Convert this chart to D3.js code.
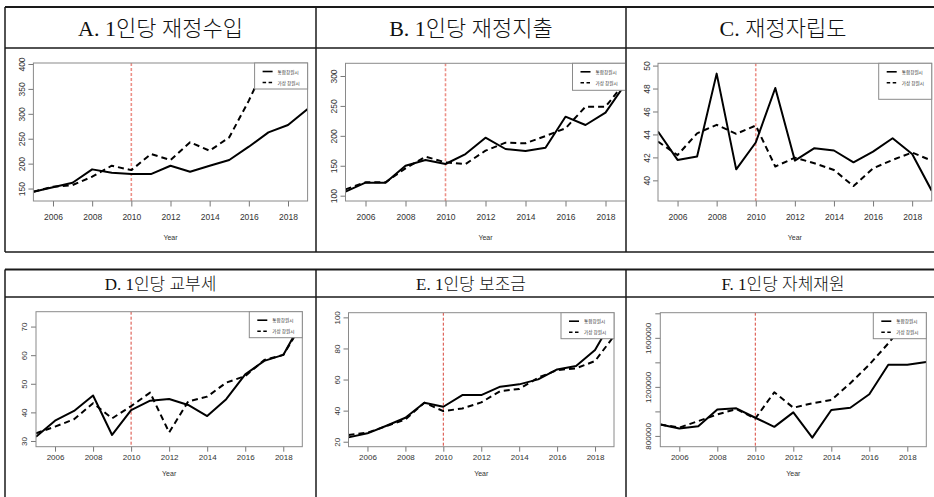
<!DOCTYPE html>
<html>
<head>
<meta charset="utf-8">
<script src="https://cdn.jsdelivr.net/npm/d3@7/dist/d3.min.js"></script>
<style>
    body { margin: 0; background: #fff; }
</style>
</head>
<body>
<div id="chart"></div>
<script>
let years = [2005, 2006, 2007, 2008, 2009, 2010, 2011, 2012, 2013, 2014, 2015, 2016, 2017, 2018, 2019];
let xTicks = [2006, 2008, 2010, 2012, 2014, 2016, 2018];
let seriesNames = ["통합창원시", "가상 창원시"];
let panelTitles = ["A. 1인당 재정수입", "B. 1인당 재정지출", "C. 재정자립도",
                   "D. 1인당 교부세", "E. 1인당 보조금", "F. 1인당 자체재원"];

// solid = 통합창원시, dashed = 가상 창원시
let revenueActual  = [143.6, 152.4, 161.6, 188.5, 181.8, 179.1, 179, 195.8, 183.8, 195.8, 207.2, 234, 262.8, 277.5, 309.6];
let revenueVirtual = [143.6, 153.6, 157, 173.7, 195.8, 187, 219.3, 207.2, 242.8, 225.9, 252.8, 326.5, 410, 440, 470];
let spendingActual  = [106.7, 121.7, 121.7, 150.1, 159.6, 152.9, 169.6, 196.9, 178, 174.7, 180.2, 232, 218.1, 238.7, 287];
let spendingVirtual = [110.6, 122.3, 122.3, 145.7, 165.2, 155.7, 152.9, 175.2, 188.6, 187.5, 199.7, 212.5, 248.7, 248.7, 290];
let autonomyActual  = [44.26, 41.78, 42.07, 49.3, 40.96, 43.3, 48.05, 41.72, 42.8, 42.6, 41.57, 42.5, 43.67, 42.3, 39.1];
let autonomyVirtual = [43.38, 42.2, 44.1, 44.84, 44.05, 44.78, 41.2, 41.98, 41.49, 40.9, 39.5, 41.05, 41.78, 42.42, 41.72];
let grantActual  = [31.5, 37.1, 40.5, 45.9, 32.1, 40.8, 44.1, 44.7, 42.6, 38.7, 44.6, 53.3, 58, 60.1, 72];
let grantVirtual = [32.7, 35, 37.6, 43.2, 37.9, 42.2, 46.9, 33, 43.8, 45.5, 50.4, 52.7, 58.3, 60.1, 71];
let subsidyActual  = [22.8, 25.4, 30.3, 35.4, 45.1, 42.5, 50, 50, 55.4, 56.9, 60.1, 66.5, 68.7, 79, 100];
let subsidyVirtual = [24.3, 25.8, 30.1, 34.4, 45.1, 39.7, 41.4, 45.3, 52.6, 53.9, 61.2, 66.1, 67.2, 71.9, 88];
let ownActual  = [893000, 860000, 879000, 1016000, 1025000, 948000, 874000, 992000, 786000, 1011000, 1030000, 1140000, 1381000, 1381000, 1403000];
let ownVirtual = [893000, 868000, 921000, 975000, 1019000, 942000, 1156000, 1030000, 1066000, 1093000, 1230000, 1381000, 1555000, 1740000, 1900000];

let revenueTicks  = [150, 200, 250, 300, 350, 400];
let spendingTicks = [100, 150, 200, 250, 300];
let autonomyTicks = [40, 42, 44, 46, 48, 50];
let grantTicks    = [30, 40, 50, 60, 70];
let subsidyTicks  = [20, 40, 60, 80, 100];
let ownTicks      = [800000, 1000000, 1200000, 1400000, 1600000, 1800000];
let ownTickLabels = [800000, 1200000, 1600000];

let panelSeries = [
    [revenueActual, revenueVirtual],
    [spendingActual, spendingVirtual],
    [autonomyActual, autonomyVirtual],
    [grantActual, grantVirtual],
    [subsidyActual, subsidyVirtual],
    [ownActual, ownVirtual]
];
let panelTicks = [revenueTicks, spendingTicks, autonomyTicks, grantTicks, subsidyTicks, ownTicks];
let panelTickLabels = [revenueTicks, spendingTicks, autonomyTicks, grantTicks, subsidyTicks, ownTickLabels];

// layout
let width = 934, height = 497;
let colX = [5, 316, 626, 940];
let rows = [
    {top: 7, sep: 48, bottom: 252, titleSize: 22, tickDy: 19, yearDy: 36, tickFont: 8.5, tickLen: 5.5, vColor: "#ec8f86", vWidth: 1.6},
    {top: 269.5, sep: 297, bottom: 502, titleSize: 17, tickDy: 13, yearDy: 26.5, tickFont: 8, tickLen: 5, vColor: "#d9453a", vWidth: 1}
];
let boxes = [
    {l: 33.4, r: 307.6, t: 63, b: 201, y0: 125, y1: 402, legH: 26},
    {l: 345.5, r: 625.5, t: 63.3, b: 201, y0: 91.1, y1: 321.2, legH: 27},
    {l: 658, r: 931.7, t: 63.3, b: 201, y0: 38.2, y1: 50.2, legH: 36},
    {l: 36, r: 302.3, t: 311.7, b: 446.7, y0: 28, y1: 75.2, legH: 26},
    {l: 348.5, r: 614, t: 312.7, b: 446.7, y0: 16.8, y1: 103, legH: 26},
    {l: 660.3, r: 926.3, t: 312.7, b: 446.7, y0: 712000, y1: 1805000, legH: 26}
];

let svg = d3.select("#chart").append("svg")
    .attr("width", width)
    .attr("height", height)
    .style("display", "block");

let defs = svg.append("defs");

//table lines
rows.forEach(function (row, ri) {
    let t = svg.append("g").attr("stroke", "#1a1a1a").attr("fill", "none");
    t.append("line").attr("x1", colX[0]).attr("x2", width).attr("y1", row.top).attr("y2", row.top).attr("stroke-width", 2);
    t.append("line").attr("x1", colX[0]).attr("x2", width).attr("y1", row.sep).attr("y2", row.sep).attr("stroke-width", 1.5);
    if (ri == 0) {
        t.append("line").attr("x1", colX[0]).attr("x2", width).attr("y1", row.bottom).attr("y2", row.bottom).attr("stroke-width", 1.5);
    }
    colX.slice(0, 3).forEach(function (cx) {
        t.append("line").attr("x1", cx).attr("x2", cx).attr("y1", row.top).attr("y2", Math.min(row.bottom, height)).attr("stroke-width", 1.5);
    });
});

function renderPanel(i) {
    let box = boxes[i], row = rows[Math.floor(i / 3)], col = i % 3;
    let cx0 = colX[col], cx1 = colX[col + 1];

    let x = d3.scaleLinear().domain([2005, 2019]).range([box.l, box.r]);
    let y = d3.scaleLinear().domain([box.y0, box.y1]).range([box.b, box.t]);

    defs.append("clipPath").attr("id", "cell" + i)
        .append("rect")
        .attr("x", cx0 + 1).attr("y", row.sep + 1)
        .attr("width", cx1 - cx0 - 2).attr("height", row.bottom - row.sep - 2);
    defs.append("clipPath").attr("id", "plot" + i)
        .append("rect")
        .attr("x", box.l).attr("y", box.t)
        .attr("width", box.r - box.l).attr("height", box.b - box.t);

    //title
    svg.append("text")
        .attr("x", (cx0 + cx1) / 2)
        .attr("y", (row.top + row.sep) / 2 + 1)
        .attr("text-anchor", "middle")
        .attr("dominant-baseline", "central")
        .attr("font-family", "'Liberation Serif', 'Noto Sans CJK KR', serif")
        .attr("font-weight", 300)
        .attr("font-size", row.titleSize)
        .attr("fill", "#111")
        .text(panelTitles[i]);

    let g = svg.append("g").attr("clip-path", "url(#cell" + i + ")");

    //x axis
    let xAxis = g.append("g")
        .attr("transform", "translate(0," + box.b + ")")
        .call(d3.axisBottom(x).tickValues(xTicks).tickSize(row.tickLen).tickFormat(d3.format("d")));
    xAxis.select(".domain").remove();
    xAxis.selectAll("line").attr("stroke", "#777");
    xAxis.selectAll("text")
        .attr("y", row.tickDy)
        .attr("dy", 0)
        .attr("fill", "#333")
        .attr("font-family", "'Liberation Sans', Arial, sans-serif")
        .attr("font-size", row.tickFont);

    //y axis
    let labels = panelTickLabels[i];
    let yAxis = g.append("g")
        .attr("transform", "translate(" + box.l + ",0)")
        .call(d3.axisLeft(y).tickValues(panelTicks[i]).tickSize(5)
            .tickFormat(function (d) { return labels.indexOf(d) >= 0 ? d3.format("d")(d) : ""; }));
    yAxis.select(".domain").remove();
    yAxis.selectAll("line").attr("stroke", "#777");
    yAxis.selectAll("text")
        .attr("transform", "rotate(-90)")
        .attr("x", 0)
        .attr("y", -11.5)
        .attr("dy", 0)
        .attr("text-anchor", "middle")
        .attr("dominant-baseline", "central")
        .attr("fill", "#333")
        .attr("font-family", "'Liberation Sans', Arial, sans-serif")
        .attr("font-size", row.tickFont);

    g.append("text")
        .attr("x", (box.l + box.r) / 2)
        .attr("y", box.b + row.yearDy)
        .attr("text-anchor", "middle")
        .attr("dominant-baseline", "central")
        .attr("fill", "#333")
        .attr("font-family", "'Liberation Sans', Arial, sans-serif")
        .attr("font-size", 7)
        .text("Year");

    //plot contents
    let p = g.append("g").attr("clip-path", "url(#plot" + i + ")");

    p.append("line")
        .attr("x1", x(2010)).attr("x2", x(2010))
        .attr("y1", box.t).attr("y2", box.b)
        .attr("stroke", row.vColor)
        .attr("stroke-width", row.vWidth)
        .attr("stroke-dasharray", "3,2");

    let line = d3.line()
        .x(function (d, j) { return x(years[j]); })
        .y(function (d) { return y(d); });

    p.selectAll(".series")
        .data(panelSeries[i])
        .enter().append("path")
        .attr("class", "series")
        .attr("d", line)
        .attr("fill", "none")
        .attr("stroke", "#000")
        .attr("stroke-width", 2)
        .attr("stroke-linejoin", "round")
        .attr("stroke-dasharray", function (d, j) { return j == 1 ? "6,4" : null; });

    g.append("rect")
        .attr("x", box.l).attr("y", box.t)
        .attr("width", box.r - box.l).attr("height", box.b - box.t)
        .attr("fill", "none")
        .attr("stroke", "#8a8a8a")
        .attr("stroke-width", 1);

    //legend
    let legW = 53;
    let leg = g.append("g").attr("transform", "translate(" + (box.r - legW) + "," + box.t + ")");
    leg.append("rect")
        .attr("width", legW).attr("height", box.legH)
        .attr("fill", "#fff")
        .attr("stroke", "#8a8a8a");
    let item = leg.selectAll(".item")
        .data(seriesNames)
        .enter().append("g")
        .attr("class", "item")
        .attr("transform", function (d, j) { return "translate(0," + (8.5 + j * 11) + ")"; });
    item.append("line")
        .attr("x1", 8).attr("x2", 18)
        .attr("stroke", "#000")
        .attr("stroke-width", 1.6)
        .attr("stroke-dasharray", function (d, j) { return j == 1 ? "3.5,2.5" : null; });
    item.append("text")
        .attr("x", 23)
        .attr("dominant-baseline", "central")
        .attr("font-family", "'Noto Sans CJK KR', sans-serif")
        .attr("font-size", 4.6)
        .attr("fill", "#333")
        .text(function (d) { return d; });
}

for (let i = 0; i < 6; i++) renderPanel(i);
</script>
</body>
</html>
